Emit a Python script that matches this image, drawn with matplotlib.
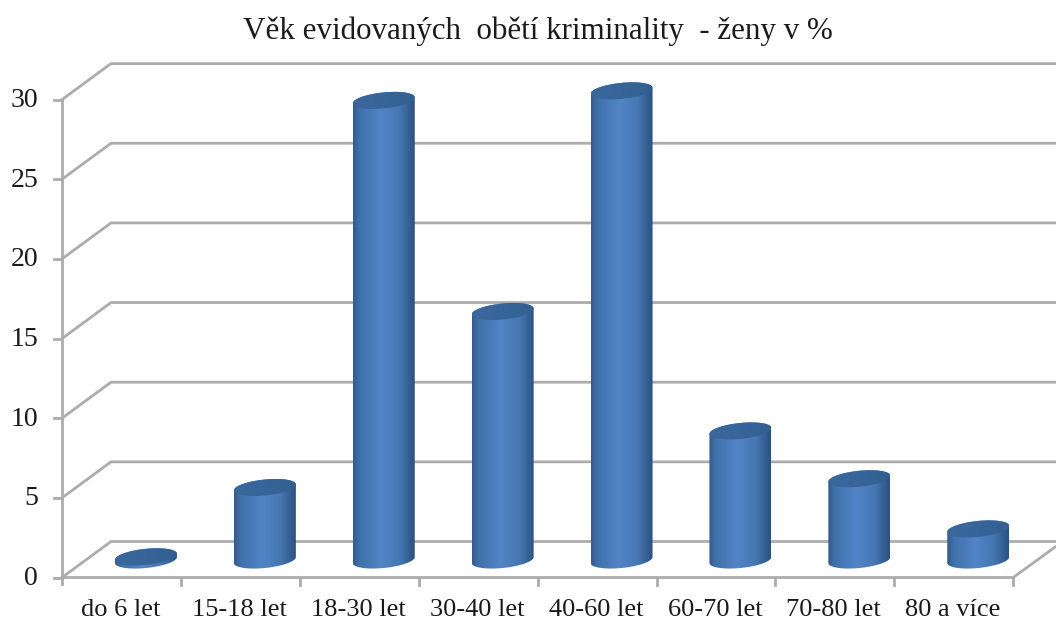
import numpy as np
import matplotlib.pyplot as plt
from matplotlib.patches import Polygon
from matplotlib.colors import LinearSegmentedColormap

categories = ['do 6 let', '15-18 let', '18-30 let', '30-40 let', '40-60 let', '60-70 let', '70-80 let', '80 a více']
values = [0.2, 4.55, 28.85, 15.6, 29.45, 8.1, 5.1, 1.95]
y_ticks = [0, 5, 10, 15, 20, 25, 30]

plt.rcParams['font.family'] = 'Liberation Serif'

fig = plt.figure(figsize=(10.56, 6.21), dpi=100)
ax = fig.add_axes([0, 0, 1, 1])
ax.axis('off')

# axis geometry in pixels
x0, slot = 62, 118.9
x_end = x0 + slot * len(categories)
y0, step = 577.5, 15.93
dx, dy = 49, -36
grid = '#acacac'
lw = 2
text_col = '#1a1a1a'

def y_pos(v):
    return y0 - v * step

for t in y_ticks:
    y = y_pos(t)
    ax.plot([x0, x0 + dx, 1056], [y, y + dy, y + dy], color=grid, lw=lw, zorder=1)
    ax.plot([x0 - 8, x0], [y, y], color=grid, lw=lw, zorder=1)
    ax.text(38, y + 1, str(t), ha='right', va='center', fontsize=20, color=text_col)
ax.plot([x0, x0], [y0 + 6, y_pos(30)], color=grid, lw=lw, zorder=1)
ax.plot([x0, x_end, x_end + 44], [y0, y0, y0 - 32], color=grid, lw=lw, zorder=1)
for i in range(1, len(categories) + 1):
    xt = x0 + i * slot
    ax.plot([xt, xt], [y0, y0 + 7], color=grid, lw=lw, zorder=1)

body_cmap = LinearSegmentedColormap.from_list(
    'body', [(0, '#34598a'), (0.1, '#3f70aa'), (0.45, '#5285c6'), (0.75, '#4677b3'), (1, '#2b5180')])
top_cmap = LinearSegmentedColormap.from_list('top', ['#3a679c', '#37659a', '#33608f'])
grad = np.linspace(0, 1, 256).reshape(1, -1)
w, h = 62, 16
tilt = np.radians(5.5)
base_y = y0 - 17.5

def ellipse_pts(cx, cy, t):
    # tilted ellipse, right side up
    ex = w / 2 * np.cos(t)
    ey = h / 2 * np.sin(t)
    return cx + ex, cy + ey - ex * np.tan(tilt)

t_all = np.linspace(0, 2 * np.pi, 120)
t_low = np.linspace(0, np.pi, 60)
t_up = np.linspace(np.pi, 2 * np.pi, 60)

for i, (cat, v) in enumerate(zip(categories, values)):
    cx = x0 + (i + 0.5) * slot + 24.5
    top = base_y - v * step
    # side of the cylinder: upper rim of the top, lower rim of the base
    xb, yb = ellipse_pts(cx, base_y, t_low)
    xt, yt = ellipse_pts(cx, top, t_up)
    outline = np.vstack([np.column_stack([xb, yb]), np.column_stack([xt, yt])])
    side = Polygon(outline, closed=True, fc='none', ec='none', zorder=3)
    ax.add_patch(side)
    im = ax.imshow(grad, cmap=body_cmap, extent=[cx - w / 2, cx + w / 2, base_y + h, top - h],
                   aspect='auto', zorder=3, interpolation='bilinear')
    im.set_clip_path(side)
    xe, ye = ellipse_pts(cx, top, t_all)
    cap = Polygon(np.column_stack([xe, ye]), closed=True, fc='none', ec='none', zorder=4)
    ax.add_patch(cap)
    im2 = ax.imshow(grad, cmap=top_cmap, extent=[cx - w / 2, cx + w / 2, top + h, top - h],
                    aspect='auto', zorder=4, interpolation='bilinear')
    im2.set_clip_path(cap)
    ax.text(x0 + (i + 0.5) * slot - 1, 610, cat, ha='center', va='center', fontsize=19, color=text_col)

ax.set_xlim(0, 1056)
ax.set_ylim(621, 0)
ax.text(538, 31, 'Věk evidovaných  obětí kriminality  - ženy v %', ha='center', va='center', fontsize=22.3, color=text_col)

fig.savefig('out.png', dpi=100)
